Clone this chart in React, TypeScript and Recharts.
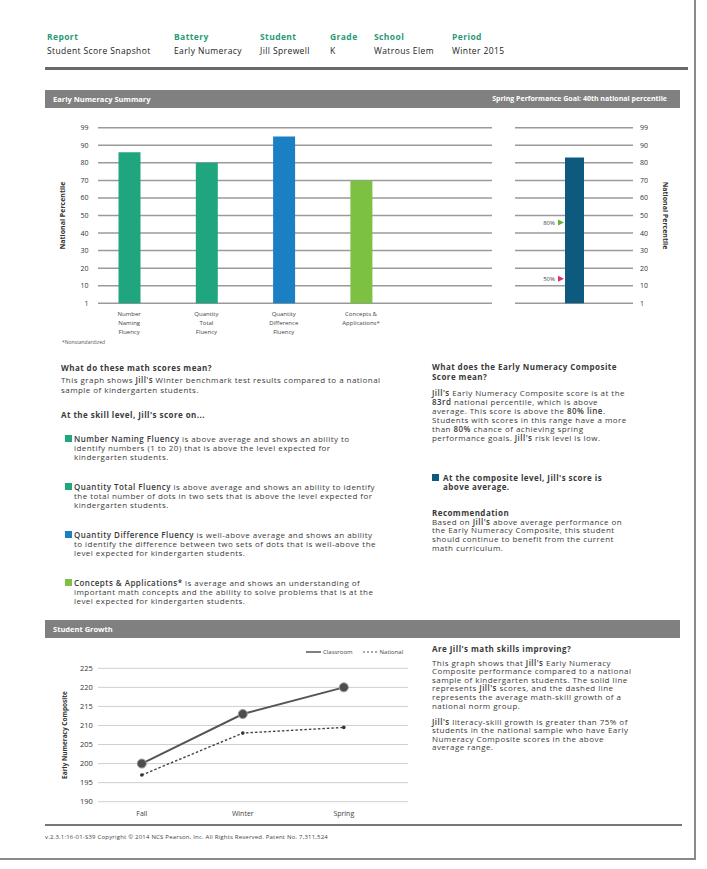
import React from 'react';
import {
  BarChart,
  Bar,
  XAxis,
  YAxis,
  CartesianGrid,
  Cell,
  ReferenceDot,
  LineChart,
  Line,
} from 'recharts';

// skill level bars (national percentile, plotted on the evenly spaced 1..99 scale)
const skills = [
  'Number Naming Fluency',
  'Quantity Total Fluency',
  'Quantity Difference Fluency',
  'Concepts & Applications*',
];
const skillLabelLines = [
  ['Number', 'Naming', 'Fluency'],
  ['Quantity', 'Total', 'Fluency'],
  ['Quantity', 'Difference', 'Fluency'],
  ['Concepts &', 'Applications*'],
];
const skillPercentiles = [86, 80, 95, 70];
const skillColors = ['#1fa67f', '#1fa67f', '#1b80c3', '#7cc142'];

const compositeName = 'Early Numeracy Composite';
const compositeLabelLines = ['Early Numeracy', 'Composite'];
const compositePercentile = 83;
const compositeColor = '#0e5a7e';

const percentileTicks = [0, 10, 20, 30, 40, 50, 60, 70, 80, 90, 100];
const percentileTickLabels = ['1', '10', '20', '30', '40', '50', '60', '70', '80', '90', '99'];

const goalMarkers = [
  { label: '80%', value: 46, color: '#5db52f' },
  { label: '50%', value: 14, color: '#e3306d' },
];

// student growth
const seasons = ['Fall', 'Winter', 'Spring'];
const classroomScores = [200, 213, 220];
const nationalScores = [197, 208, 209.5];
const growthTicks = [190, 195, 200, 205, 210, 215, 220, 225];

const skillData = skills.map((name, i) => ({ name, value: skillPercentiles[i] }));
const compositeData = [{ name: compositeName, value: compositePercentile }];
const growthData = seasons.map((season, i) => ({
  season,
  classroom: classroomScores[i],
  national: nationalScores[i],
}));

const TEXT = '#3a3a3a';
const GREEN = '#2a9a76';

const pctLabel = (v: number) => percentileTickLabels[percentileTicks.indexOf(v)];

const SkillTick = (props: any) => {
  const { x, y, payload } = props;
  const lines = skillLabelLines[skills.indexOf(payload.value)] || [];
  return (
    <g>
      {lines.map((l, i) => (
        <text key={i} x={x} y={y + 12.2 + i * 9.3} textAnchor="middle" fontSize={6} fill="#444">
          {l}
        </text>
      ))}
    </g>
  );
};

const CompositeTick = (props: any) => {
  const { x, y } = props;
  return (
    <g>
      {compositeLabelLines.map((l, i) => (
        <text key={i} x={x} y={y + 12.2 + i * 10} textAnchor="middle" fontSize={6} fill="#444">
          {l}
        </text>
      ))}
    </g>
  );
};

const markerShape = (label: string, color: string) => (props: any) => {
  const { cx, cy } = props;
  return (
    <g>
      <text x={cx - 19} y={cy + 2.2} textAnchor="end" fontSize={6} fill="#444">
        {label}
      </text>
      <polygon points={`${cx - 16},${cy - 3} ${cx - 10},${cy} ${cx - 16},${cy + 3}`} fill={color} />
    </g>
  );
};

const B = ({ children }: { children: React.ReactNode }) => (
  <span style={{ fontWeight: 600 }}>{children}</span>
);

const Lines = ({
  x,
  y,
  lines,
  bold = false,
  size = 8,
  lh = 9,
}: {
  x: number;
  y: number;
  lines: React.ReactNode[];
  bold?: boolean;
  size?: number;
  lh?: number;
}) => (
  <div
    style={{
      position: 'absolute',
      left: x,
      top: y - lh / 2,
      fontSize: size,
      lineHeight: `${lh}px`,
      letterSpacing: 0.45,
      fontWeight: bold ? 700 : 400,
      whiteSpace: 'nowrap',
      color: TEXT,
    }}
  >
    {lines.map((l, i) => (
      <div key={i}>{l}</div>
    ))}
  </div>
);

const Square = ({ x, y, color }: { x: number; y: number; color: string }) => (
  <div style={{ position: 'absolute', left: x, top: y - 3.5, width: 7, height: 7, background: color }} />
);

const Band = ({ y, title, right }: { y: number; title: string; right?: string }) => (
  <div
    style={{
      position: 'absolute',
      left: 45,
      top: y,
      width: 635,
      height: 18,
      background: '#808080',
      color: '#fff',
      fontWeight: 700,
    }}
  >
    <span style={{ position: 'absolute', left: 8, top: 3, fontSize: 7.5, lineHeight: '12px' }}>{title}</span>
    {right && (
      <span style={{ position: 'absolute', right: 13, top: 3, fontSize: 7, lineHeight: '12px' }}>{right}</span>
    )}
  </div>
);

const headerCols = [
  { x: 47, label: 'Report', value: 'Student Score Snapshot' },
  { x: 174, label: 'Battery', value: 'Early Numeracy' },
  { x: 260, label: 'Student', value: 'Jill Sprewell' },
  { x: 330, label: 'Grade', value: 'K' },
  { x: 374, label: 'School', value: 'Watrous Elem' },
  { x: 452, label: 'Period', value: 'Winter 2015' },
];

export default function App() {
  return (
    <div
      style={{
        position: 'absolute',
        left: 0,
        top: 0,
        width: 707,
        height: 869,
        background: '#fff',
        fontFamily: '"Open Sans", sans-serif',
        overflow: 'hidden',
      }}
    >
      {/* page edge of the scan */}
      <div style={{ position: 'absolute', left: 694, top: 0, width: 1.5, height: 859, background: '#8a8a8a' }} />
      <div style={{ position: 'absolute', left: 0, top: 858, width: 696, height: 1.5, background: '#8a8a8a' }} />

      {/* header */}
      {headerCols.map((c) => (
        <div key={c.label}>
          <div style={{ position: 'absolute', left: c.x, top: 31, fontSize: 8.5, letterSpacing: 0.4, fontWeight: 700, color: GREEN, whiteSpace: 'nowrap' }}>
            {c.label}
          </div>
          <div style={{ position: 'absolute', left: c.x, top: 45, fontSize: 8.5, letterSpacing: 0.4, color: '#222', whiteSpace: 'nowrap' }}>
            {c.value}
          </div>
        </div>
      ))}
      <div style={{ position: 'absolute', left: 45, top: 67, width: 643, height: 2.5, background: '#6a6a6a' }} />

      <Band y={90} title="Early Numeracy Summary" right="Spring Performance Goal: 40th national percentile" />

      {/* skill level chart */}
      <div style={{ position: 'absolute', left: 0, top: 110 }}>
        <BarChart
          width={500}
          height={250}
          data={skillData}
          margin={{ top: 17.7, right: 100.3, bottom: 26.7, left: 60.5 }}
        >
          <CartesianGrid x={98} width={394} vertical={false} stroke="#9a9a9a" strokeWidth={1.5} />
          <XAxis dataKey="name" axisLine={false} tickLine={false} tickSize={0} tickMargin={0} height={30} interval={0} tick={<SkillTick />} />
          <YAxis
            domain={[0, 100]}
            ticks={percentileTicks}
            interval={0}
            width={30}
            axisLine={false}
            tickLine={false}
            tickSize={0}
            tickMargin={2}
            tickFormatter={pctLabel}
            tick={{ fontSize: 7, fill: '#333' }}
            label={{
              value: 'National Percentile',
              angle: -90,
              position: 'insideLeft',
              offset: 2,
              style: { textAnchor: 'middle', fontSize: 7, fontWeight: 700, fill: '#333' },
            }}
          />
          <Bar dataKey="value" barSize={22} isAnimationActive={false}>
            {skillData.map((d, i) => (
              <Cell key={d.name} fill={skillColors[i]} />
            ))}
          </Bar>
        </BarChart>
      </div>
      <div style={{ position: 'absolute', left: 62, top: 339, fontSize: 5, color: '#555', whiteSpace: 'nowrap' }}>
        *Nonstandardized
      </div>

      {/* composite chart */}
      <div style={{ position: 'absolute', left: 500, top: 110 }}>
        <BarChart
          width={207}
          height={250}
          data={compositeData}
          margin={{ top: 17.7, right: 34, bottom: 26.7, left: 15 }}
        >
          <CartesianGrid vertical={false} stroke="#9a9a9a" strokeWidth={1.5} />
          <XAxis dataKey="name" axisLine={false} tickLine={false} tickSize={0} tickMargin={0} height={30} tick={<CompositeTick />} />
          <YAxis
            orientation="right"
            domain={[0, 100]}
            ticks={percentileTicks}
            interval={0}
            width={40}
            axisLine={false}
            tickLine={false}
            tickSize={0}
            tickMargin={7}
            tickFormatter={pctLabel}
            tick={{ fontSize: 7, fill: '#333', textAnchor: 'start' }}
            label={{
              value: 'National Percentile',
              angle: 90,
              position: 'insideRight',
              offset: 8,
              style: { textAnchor: 'middle', fontSize: 7, fontWeight: 700, fill: '#333' },
            }}
          />
          <Bar dataKey="value" barSize={19} fill={compositeColor} isAnimationActive={false} />
          {goalMarkers.map((m) => (
            <ReferenceDot
              key={m.label}
              x={compositeName}
              y={m.value}
              r={3}
              ifOverflow="visible"
              shape={markerShape(m.label, m.color)}
            />
          ))}
        </BarChart>
      </div>

      {/* left text column */}
      <Lines x={61} y={367} bold lines={['What do these math scores mean?']} />
      <Lines
        x={61}
        y={380}
        lh={10}
        lines={[
          <>This graph shows <B>Jill's</B> Winter benchmark test results compared to a national</>,
          'sample of kindergarten students.',
        ]}
      />
      <Lines x={61} y={414} bold lines={["At the skill level, Jill's score on..."]} />

      <Square x={65} y={438} color={skillColors[0]} />
      <Lines
        x={74}
        y={438}
        lines={[
          <><B>Number Naming Fluency</B> is above average and shows an ability to</>,
          'identify numbers (1 to 20) that is above the level expected for',
          'kindergarten students.',
        ]}
      />
      <Square x={65} y={486} color={skillColors[1]} />
      <Lines
        x={74}
        y={486}
        lines={[
          <><B>Quantity Total Fluency</B>  is above average and shows an ability to identify</>,
          'the total number of dots in two sets that is above the level expected for',
          'kindergarten students.',
        ]}
      />
      <Square x={65} y={534} color={skillColors[2]} />
      <Lines
        x={74}
        y={534}
        lines={[
          <><B>Quantity Difference Fluency</B>  is well-above average and shows an ability</>,
          'to identify the difference between two sets of dots that is well-above the',
          'level expected for kindergarten students.',
        ]}
      />
      <Square x={65} y={582} color={skillColors[3]} />
      <Lines
        x={74}
        y={582}
        lines={[
          <><B>Concepts &amp; Applications*</B> is average and shows an understanding of</>,
          'important math concepts and the ability to solve problems that is at the',
          'level expected for kindergarten students.',
        ]}
      />

      {/* right text column */}
      <Lines x={432} y={367} bold lh={10} lines={['What does the Early Numeracy Composite', 'Score mean?']} />
      <Lines
        x={432}
        y={392}
        lines={[
          <><B>Jill's</B> Early Numeracy Composite score is at the</>,
          <><B>83rd</B> national percentile, which is above</>,
          <>average. This score is above the <B>80% line</B>.</>,
          'Students with scores in this range have a more',
          <>than <B>80%</B> chance of achieving spring</>,
          <>performance goals. <B>Jill's</B> risk level is low.</>,
        ]}
      />
      <Square x={432} y={477} color={compositeColor} />
      <Lines x={443} y={477} bold lines={["At the composite level, Jill's score is", 'above average.']} />
      <Lines x={432} y={512} bold lines={['Recommendation']} />
      <Lines
        x={432}
        y={522}
        lh={8.7}
        lines={[
          <>Based on <B>Jill's</B> above average performance on</>,
          'the Early Numeracy Composite, this student',
          'should continue to benefit from the current',
          'math curriculum.',
        ]}
      />

      <Band y={620} title="Student Growth" />

      {/* growth legend */}
      <div style={{ position: 'absolute', left: 306, top: 648, fontSize: 6, color: '#444', whiteSpace: 'nowrap', display: 'flex', alignItems: 'center' }}>
        <svg width={15} height={6}>
          <line x1={0} y1={3} x2={15} y2={3} stroke="#555" strokeWidth={1.5} />
        </svg>
        <span style={{ marginLeft: 2, lineHeight: '8px' }}>Classroom</span>
        <svg width={15} height={6} style={{ marginLeft: 10 }}>
          <line x1={0} y1={3} x2={15} y2={3} stroke="#555" strokeWidth={1.2} strokeDasharray="2 2" />
        </svg>
        <span style={{ marginLeft: 2, lineHeight: '8px' }}>National</span>
      </div>

      {/* growth chart */}
      <div style={{ position: 'absolute', left: 0, top: 640 }}>
        <LineChart
          width={420}
          height={190}
          data={growthData}
          margin={{ top: 28.3, right: 25.7, bottom: 8.3, left: 61.3 }}
        >
          <CartesianGrid x={98} width={310} vertical={false} stroke="#cfcfcf" strokeWidth={1} />
          <XAxis
            dataKey="season"
            axisLine={false}
            tickLine={false}
            tickSize={0}
            tickMargin={9}
            height={20}
            padding={{ left: 50.5, right: 50.5 }}
            tick={{ fontSize: 7, fill: '#444' }}
          />
          <YAxis
            domain={[190, 225]}
            ticks={growthTicks}
            interval={0}
            width={30}
            axisLine={false}
            tickLine={false}
            tickSize={0}
            tickMargin={0}
            tick={{ fontSize: 7.5, fill: '#333', dx: 1.5 }}
            label={{
              value: 'Early Numeracy Composite',
              angle: -90,
              position: 'insideLeft',
              offset: 3.7,
              style: { textAnchor: 'middle', fontSize: 6.5, fontWeight: 700, fill: '#333' },
            }}
          />
          <Line
            dataKey="national"
            stroke="#444"
            strokeWidth={1.4}
            strokeDasharray="2.5 2"
            dot={{ r: 1.8, fill: '#333', stroke: '#333', strokeWidth: 0 }}
            isAnimationActive={false}
          />
          <Line
            dataKey="classroom"
            stroke="#555"
            strokeWidth={2}
            dot={{ r: 4.5, fill: '#4d4d4d', stroke: '#999', strokeWidth: 1 }}
            isAnimationActive={false}
          />
        </LineChart>
      </div>

      {/* growth text */}
      <Lines x={432} y={648} bold lines={["Are Jill's math skills improving?"]} />
      <Lines
        x={432}
        y={663}
        lh={8.6}
        lines={[
          <>This graph shows that <B>Jill's</B> Early Numeracy</>,
          'Composite performance compared to a national',
          'sample of kindergarten students. The solid line',
          <>represents <B>Jill's</B> scores, and the dashed line</>,
          'represents the average math-skill growth of a',
          'national norm group.',
        ]}
      />
      <Lines
        x={432}
        y={722}
        lh={8.6}
        lines={[
          <><B>Jill's</B> literacy-skill growth is greater than 75% of</>,
          'students in the national sample who have Early',
          'Numeracy Composite scores in the above',
          'average range.',
        ]}
      />

      {/* footer */}
      <div style={{ position: 'absolute', left: 45, top: 824, width: 637, height: 2, background: '#777' }} />
      <div style={{ position: 'absolute', left: 45, top: 833, fontSize: 6, letterSpacing: 0.2, color: '#444', whiteSpace: 'nowrap' }}>
        v.2.3.1:16-01-S39  Copyright © 2014 NCS Pearson, Inc. All Rights Reserved. Patent No. 7,311,524
      </div>
    </div>
  );
}
